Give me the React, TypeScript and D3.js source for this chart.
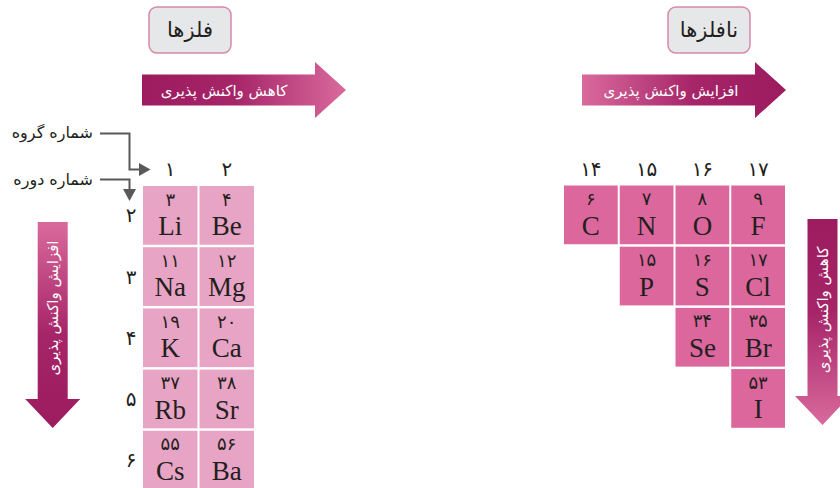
import React from "react";
import * as d3 from "d3";

// metals (groups 1 and 2)
const metalSymbols = ["Li", "Be", "Na", "Mg", "K", "Ca", "Rb", "Sr", "Cs", "Ba"];
const metalNumbers = [3, 4, 11, 12, 19, 20, 37, 38, 55, 56];
const metalGroup = [1, 2, 1, 2, 1, 2, 1, 2, 1, 2];
const metalPeriod = [2, 2, 3, 3, 4, 4, 5, 5, 6, 6];
const metalGroups = [1, 2];
const metalPeriods = [2, 3, 4, 5, 6];

// non-metals (groups 14 to 17)
const nonmetalSymbols = ["C", "N", "O", "F", "P", "S", "Cl", "Se", "Br", "I"];
const nonmetalNumbers = [6, 7, 8, 9, 15, 16, 17, 34, 35, 53];
const nonmetalGroup = [14, 15, 16, 17, 15, 16, 17, 16, 17, 17];
const nonmetalPeriod = [2, 2, 2, 2, 3, 3, 3, 4, 4, 5];
const nonmetalGroups = [14, 15, 16, 17];
const nonmetalPeriods = [2, 3, 4, 5];

const titles = ["فلزها", "نافلزها"];
const labels = ["شماره گروه", "شماره دوره"];
const arrowTexts = ["کاهش واکنش پذیری", "افزایش واکنش پذیری"];

const FA = "DejaVu Sans, sans-serif";
const SERIF = "Liberation Serif, Times New Roman, serif";
const INK = "#231f20";
const DARK = "#9c1c5f";
const LIGHT = "#d96a9c";

const toFa = (n: number) => String(n).replace(/\d/g, (d) => "۰۱۲۳۴۵۶۷۸۹"[+d]);

// arrow outline along x, later rotated for vertical ones
const arrowPath = (len: number, headLen: number, body: number, head: number) => {
  const p = d3.path();
  p.moveTo(0, -body);
  p.lineTo(len - headLen, -body);
  p.lineTo(len - headLen, -head);
  p.lineTo(len, 0);
  p.lineTo(len - headLen, head);
  p.lineTo(len - headLen, body);
  p.lineTo(0, body);
  p.closePath();
  return p.toString();
};

const Table = ({ symbols, numbers, group, period, groups, periods, x, y, fill, showPeriods }) => (
  <g>
    {groups.map((g) => (
      <text key={"g" + g} x={x(g) + x.bandwidth() / 2} y={169} fontFamily={FA} fontSize={20}
        textAnchor="middle" dominantBaseline="central" fill={INK}>{toFa(g)}</text>
    ))}
    {showPeriods && periods.map((p) => (
      <text key={"p" + p} x={131} y={y(p) + y.bandwidth() / 2} fontFamily={FA} fontSize={20}
        textAnchor="middle" dominantBaseline="central" fill={INK}>{toFa(p)}</text>
    ))}
    {symbols.map((s, i) => {
      const cx = x(group[i]);
      const cy = y(period[i]);
      return (
        <g key={s}>
          <rect x={cx} y={cy} width={x.bandwidth()} height={y.bandwidth()} fill={fill} />
          <text x={cx + x.bandwidth() / 2} y={cy + 13} fontFamily={FA} fontSize={18}
            textAnchor="middle" dominantBaseline="central" fill={INK}>{toFa(numbers[i])}</text>
          <text x={cx + x.bandwidth() / 2} y={cy + 49} fontFamily={SERIF} fontSize={27}
            textAnchor="middle" fill={INK}>{s}</text>
        </g>
      );
    })}
  </g>
);

const TitleBox = ({ cx, text }) => (
  <g>
    <rect x={cx - 41} y={7} width={82} height={46} rx={8} fill="#e6e7e8" stroke="#d888aa" strokeWidth={1.5} />
    <text x={cx} y={30} fontFamily={FA} fontSize={21} textAnchor="middle" dominantBaseline="central" fill={INK}>{text}</text>
  </g>
);

export default function App() {
  const xMetal = d3.scaleBand<number>().domain(metalGroups).range([143, 254]).paddingInner(0.036);
  const yMetal = d3.scaleBand<number>().domain(metalPeriods).range([186, 489.5]).paddingInner(0.04);
  const xNon = d3.scaleBand<number>().domain(nonmetalGroups).range([564, 785]).paddingInner(0.036);
  const yNon = d3.scaleBand<number>().domain(nonmetalPeriods).range([185.5, 427.8]).paddingInner(0.04);

  const hArrow = arrowPath(204, 31, 15.5, 28);
  const vArrow = arrowPath(206, 29, 15, 27.5);

  return (
    <svg width={840} height={488} style={{ position: "absolute", left: 0, top: 0, display: "block" }}>
      <defs>
        <linearGradient id="darkToLight" x1="0" x2="1" y1="0" y2="0">
          <stop offset="0" stopColor={DARK} />
          <stop offset="0.45" stopColor="#a62468" />
          <stop offset="1" stopColor={LIGHT} />
        </linearGradient>
        <linearGradient id="lightToDark" x1="0" x2="1" y1="0" y2="0">
          <stop offset="0" stopColor={LIGHT} />
          <stop offset="0.55" stopColor="#a62468" />
          <stop offset="1" stopColor={DARK} />
        </linearGradient>
      </defs>

      <rect width={840} height={488} fill="#ffffff" />

      <TitleBox cx={190} text={titles[0]} />
      <TitleBox cx={709} text={titles[1]} />

      {/* horizontal arrows */}
      <g transform="translate(142,90)">
        <path d={hArrow} fill="url(#darkToLight)" />
        <text x={82} y={1} fontFamily={FA} fontSize={15} fill="#fff" textAnchor="middle" dominantBaseline="central">{arrowTexts[0]}</text>
      </g>
      <g transform="translate(582,90)">
        <path d={hArrow} fill="url(#lightToDark)" />
        <text x={89} y={1} fontFamily={FA} fontSize={15} fill="#fff" textAnchor="middle" dominantBaseline="central">{arrowTexts[1]}</text>
      </g>

      {/* vertical arrows */}
      <g transform="translate(52.7,222) rotate(90)">
        <path d={vArrow} fill="url(#lightToDark)" />
      </g>
      <text transform="translate(52.7,308) rotate(-90)" fontFamily={FA} fontSize={15} fill="#fff"
        textAnchor="middle" dominantBaseline="central">{arrowTexts[1]}</text>
      <g transform="translate(822.5,219) rotate(90)">
        <path d={vArrow} fill="url(#darkToLight)" />
      </g>
      <text transform="translate(822.5,310) rotate(-90)" fontFamily={FA} fontSize={15} fill="#fff"
        textAnchor="middle" dominantBaseline="central">{arrowTexts[0]}</text>

      {/* group / period pointers */}
      <text x={93} y={132} fontFamily={FA} fontSize={16} textAnchor="end" dominantBaseline="central" fill={INK}>{labels[0]}</text>
      <text x={93} y={179} fontFamily={FA} fontSize={16} textAnchor="end" dominantBaseline="central" fill={INK}>{labels[1]}</text>
      <g stroke="#58595b" strokeWidth={2} fill="none">
        <polyline points="100,133.5 129.5,133.5 129.5,169.5 140,169.5" />
        <polyline points="100,179.5 129.5,179.5 129.5,190" />
      </g>
      <g fill="#58595b">
        <polygon points="139,163 150.5,169.5 139,176" />
        <polygon points="123,189 136,189 129.5,201" />
      </g>

      <Table symbols={metalSymbols} numbers={metalNumbers} group={metalGroup} period={metalPeriod}
        groups={metalGroups} periods={metalPeriods} x={xMetal} y={yMetal} fill="#e8a4c4" showPeriods />
      <Table symbols={nonmetalSymbols} numbers={nonmetalNumbers} group={nonmetalGroup} period={nonmetalPeriod}
        groups={nonmetalGroups} periods={nonmetalPeriods} x={xNon} y={yNon} fill="#db679c" showPeriods={false} />
    </svg>
  );
}
